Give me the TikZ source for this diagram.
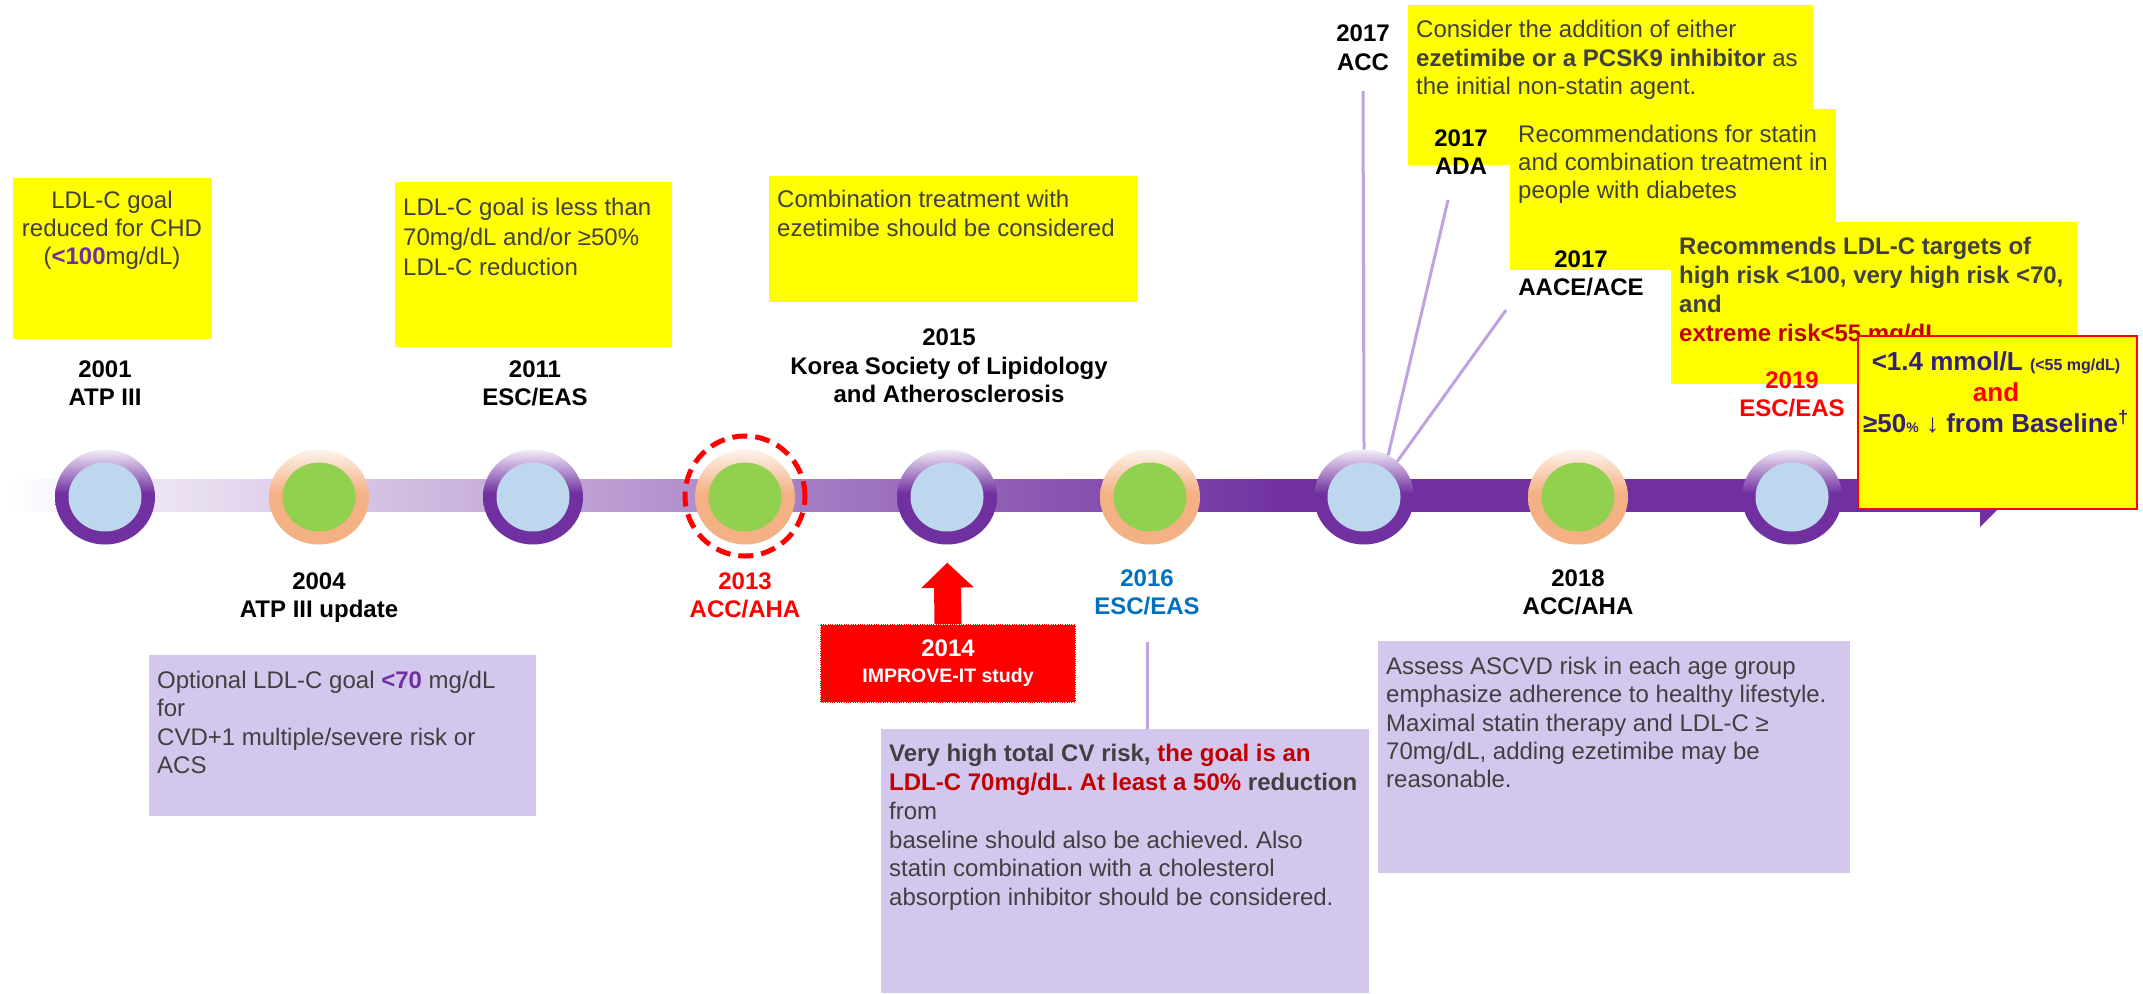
\documentclass[tikz,border=0pt]{standalone}
\usepackage{fontspec}
\setmainfont{Liberation Sans}
\usetikzlibrary{arrows.meta,shapes.geometric}
\frenchspacing
\definecolor{yel}{HTML}{FFFF00}
\definecolor{lav}{HTML}{D4C7ED}
\definecolor{ppl}{HTML}{7030A0}
\definecolor{pplfade}{HTML}{F3EDF8}
\definecolor{barstart}{HTML}{F6F2FA}
\definecolor{org}{HTML}{F4B183}
\definecolor{orgfade}{HTML}{FDF3EC}
\definecolor{grn}{HTML}{92D050}
\definecolor{lblue}{HTML}{BDD7EE}
\definecolor{txtgray}{HTML}{404040}
\definecolor{darkred}{HTML}{C00000}
\definecolor{conn}{HTML}{BFA2E0}
\definecolor{navy}{HTML}{33207A}
\definecolor{blue16}{HTML}{0070C0}
\definecolor{brightred}{HTML}{FF0000}
\pgfdeclareverticalshading{ringP}{100bp}{color(0bp)=(ppl); color(52bp)=(ppl); color(75bp)=(pplfade); color(100bp)=(pplfade)}
\pgfdeclareverticalshading{ringO}{100bp}{color(0bp)=(org); color(52bp)=(org); color(75bp)=(orgfade); color(100bp)=(orgfade)}
\pgfdeclarehorizontalshading{barS}{100bp}{color(0bp)=(white); color(25bp)=(white); color(26.5bp)=(barstart); color(57.5bp)=(ppl); color(100bp)=(ppl)}
\begin{document}
\begin{tikzpicture}[x=1pt,y=-1pt,
  ybox/.style={fill=yel, draw=none, inner sep=0, anchor=north west},
  lbox/.style={fill=lav, draw=none, inner sep=0, anchor=north west},
  txt/.style={text=txtgray, inner sep=0, align=left, anchor=north west},
  yr/.style={inner sep=0, align=center, anchor=north, font=\bfseries\fontsize{24}{28}\selectfont},
  ringp/.style={ellipse, minimum width=100pt, minimum height=95pt, inner sep=0, shade, shading=ringP},
  ringo/.style={ellipse, minimum width=100pt, minimum height=95pt, inner sep=0, shade, shading=ringO},
  coreb/.style={ellipse, minimum width=73pt, minimum height=69pt, inner sep=0, fill=lblue},
  coreg/.style={ellipse, minimum width=73pt, minimum height=69pt, inner sep=0, fill=grn},
  connline/.style={draw=conn, line width=3pt},
]
\useasboundingbox (0,0) rectangle (2143,993);
\fill[white] (0,0) rectangle (2143,993);

% timeline bar
\fill[shading=barS, shade] (10,479) rectangle (1982,511);
\fill[ppl] (1980,463) -- (2012,495) -- (1980,527) -- cycle;

% circles
\node[ringp] (c01) at (105,497) {};
\node[coreb] (c01i) at (c01) {};
\node[ringo] (c04) at (319,497) {};
\node[coreg] (c04i) at (c04) {};
\node[ringp] (c11) at (533,497) {};
\node[coreb] (c11i) at (c11) {};
\node[ringo] (c13) at (745,497) {};
\node[coreg] (c13i) at (c13) {};
\node[circle, draw=brightred, line width=5pt, dash pattern=on 15pt off 8pt, minimum size=120pt, inner sep=0] (c13d) at (745,496) {};
\node[ringp] (c15) at (947,497) {};
\node[coreb] (c15i) at (c15) {};
\node[ringo] (c16) at (1150,497) {};
\node[coreg] (c16i) at (c16) {};
\node[ringp] (c17) at (1364,497) {};
\node[coreb] (c17i) at (c17) {};
\node[ringo] (c18) at (1578,497) {};
\node[coreg] (c18i) at (c18) {};
\node[ringp] (c19) at (1792,497) {};
\node[coreb] (c19i) at (c19) {};

% yellow boxes (top)
\node[ybox, minimum width=199pt, minimum height=161pt] (bA) at (13,178) {};
\node[txt, align=center, anchor=north, font=\fontsize{24}{28}\selectfont] (tA) at (112,191) {LDL-C goal\\reduced for CHD\\(\textcolor{ppl}{\bfseries <100}mg/dL)};
\node[ybox, minimum width=277pt, minimum height=165pt] (bB) at (395,182) {};
\node[txt, font=\fontsize{24}{30}\selectfont] (tB) at (403,198) {LDL-C goal is less than\\70mg/dL and/or ≥50\%\\LDL-C reduction};
\node[ybox, minimum width=368pt, minimum height=126pt] (bC) at (769,176) {};
\node[txt, font=\fontsize{24}{29}\selectfont] (tC) at (777,190) {Combination treatment with\\ezetimibe should be considered};
\node[ybox, minimum width=405pt, minimum height=160pt] (bD) at (1408,5) {};
\node[ybox, minimum width=326pt, minimum height=161pt] (bE) at (1510,109) {};
\node[ybox, minimum width=406pt, minimum height=162pt] (bF) at (1671,222) {};
\node[txt, font=\fontsize{24}{28.6}\selectfont] (tD) at (1416,20) {Consider the addition of either\\\textbf{ezetimibe or a PCSK9 inhibitor} as\\the initial non-statin agent.};
\node[txt, font=\fontsize{24}{28}\selectfont] (tE) at (1518,125) {Recommendations for statin\\and combination treatment in\\people with diabetes};
\node[txt, font=\bfseries\fontsize{24}{29}\selectfont] (tF) at (1679,237) {Recommends LDL-C targets of\\high risk <100, very high risk <70,\\and\\\textcolor{darkred}{extreme risk<55 mg/dL}};
\node[ybox, draw=brightred, line width=1.5pt, minimum width=279pt, minimum height=173pt] (bG) at (1857,335) {};
\node[inner sep=0, align=center, anchor=north, text=navy, font=\bfseries\fontsize{26}{31}\selectfont] (tG) at (1996,351) {<1.4 mmol/L {\fontsize{16}{16}\selectfont(<55 mg/dL)}\\\textcolor{brightred}{and}\\≥50{\fontsize{14}{14}\selectfont\%} {\mdseries↓} from Baseline\textsuperscript{†}};

% year labels above
\node[yr] (l01) at (105,361) {2001\\ATP III};
\node[yr] (l11) at (535,361) {2011\\ESC/EAS};
\node[yr, font=\bfseries\fontsize{24}{28.5}\selectfont] (l15) at (949,329) {2015\\Korea Society of Lipidology\\and Atherosclerosis};
\node[yr, font=\bfseries\fontsize{24}{28.5}\selectfont] (lacc) at (1363,25) {2017\\ACC};
\node[yr] (lada) at (1461,130) {2017\\ADA};
\node[yr, font=\bfseries\fontsize{24}{27.5}\selectfont] (laace) at (1581,251) {2017\\AACE/ACE};
\node[yr, text=brightred] (l19) at (1792,372) {2019\\ESC/EAS};

% year labels below
\node[yr] (l04) at (319,573) {2004\\ATP III update};
\node[yr, text=brightred] (l13) at (745,573) {2013\\ACC/AHA};
\node[yr, text=blue16] (l16) at (1147,570) {2016\\ESC/EAS};
\node[yr] (l18) at (1578,570) {2018\\ACC/AHA};

% connectors 2017
\coordinate (accEnd) at (1363,91);
\coordinate (adaEnd) at (1448,200);
\coordinate (aaceEnd) at (1506,310);
\draw[connline] (accEnd) -- (c17.north);
\draw[connline] (adaEnd) -- (c17.60);
\draw[connline] (aaceEnd) -- (c17.47);

% lavender boxes
\node[lbox, minimum width=387pt, minimum height=161pt] (b04) at (149,655) {};
\node[txt, font=\fontsize{24}{28.3}\selectfont] (t04) at (157,671) {Optional LDL-C goal \textcolor{ppl}{\bfseries <70} mg/dL\\for\\CVD+1 multiple/severe risk or\\ACS};
\node[lbox, minimum width=488pt, minimum height=264pt] (b16) at (881,729) {};
\node[txt, font=\fontsize{24}{28.8}\selectfont] (t16) at (889,744) {\textbf{Very high total CV risk, \textcolor{darkred}{the goal is an}}\\\textbf{\textcolor{darkred}{LDL-C 70mg/dL. At least a 50\%} reduction}\\from\\baseline should also be achieved. Also\\statin combination with a cholesterol\\absorption inhibitor should be considered.};
\node[lbox, minimum width=472pt, minimum height=232pt] (b18) at (1378,641) {};
\node[txt, font=\fontsize{24}{28.3}\selectfont] (t18) at (1386,657) {Assess ASCVD risk in each age group\\emphasize adherence to healthy lifestyle.\\Maximal statin therapy and LDL-C ≥\\70mg/dL, adding ezetimibe may be\\reasonable.};

% 2016 connector
\coordinate (l16line) at (1147,642);
\draw[connline] (l16line) -- (l16line |- b16.north);

% 2014 box and arrow
\node[fill=brightred, draw=brightred, line width=2pt, minimum width=254pt, minimum height=77pt, inner sep=0, align=center, text=white, font=\bfseries\fontsize{24}{26}\selectfont] (b14) at (948,663.5) {2014\\{\fontsize{19.5}{26}\selectfont IMPROVE-IT study}};
\draw[white, densely dotted, line width=1.3pt] (b14.north west) rectangle (b14.south east);
\draw[brightred, line width=27pt, -{Triangle[width=51pt,length=25pt]}, shorten >=18pt] (b14.north) -- (c15.south);
\end{tikzpicture}
\end{document}
